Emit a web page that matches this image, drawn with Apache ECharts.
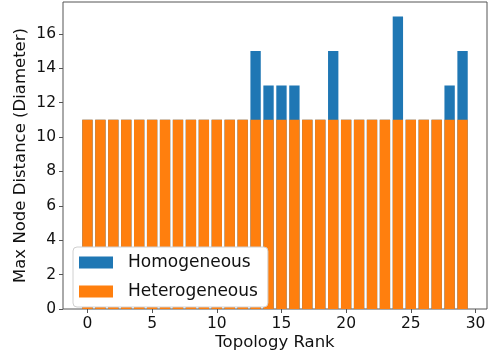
<!DOCTYPE html>
<html>
<head>
<meta charset="utf-8">
<script src="https://cdn.jsdelivr.net/npm/echarts@6/dist/echarts.min.js"></script>
<style>
  html, body { margin: 0; padding: 0; background: #fff; }
  #chart { width: 490px; height: 356px; }
</style>
</head>
<body>
<div id="chart"></div>
<script>
// Topology rank on the x axis, network diameter on the y axis
const ranks = [0, 1, 2, 3, 4, 5, 6, 7, 8, 9, 10, 11, 12, 13, 14, 15, 16, 17, 18, 19, 20, 21, 22, 23, 24, 25, 26, 27, 28, 29];
const homogeneous = [11, 11, 11, 11, 11, 11, 11, 11, 11, 11, 11, 11, 11, 15, 13, 13, 13, 11, 11, 15, 11, 11, 11, 11, 17, 11, 11, 11, 13, 15];
const heterogeneous = [11, 11, 11, 11, 11, 11, 11, 11, 11, 11, 11, 11, 11, 11, 11, 11, 11, 11, 11, 11, 11, 11, 11, 11, 11, 11, 11, 11, 11, 11];
const xTicks = [0, 5, 10, 15, 20, 25, 30];
const yTicks = [0, 2, 4, 6, 8, 10, 12, 14, 16];

const FONT = 'DejaVu Sans';
const BAR_WIDTH = 0.8;

function barRenderer(color) {
  return function (params, api) {
    const x = api.value(0);
    const y = api.value(1);
    const top = api.coord([x, y]);
    const base = api.coord([x, 0]);
    const w = api.size([BAR_WIDTH, 0])[0];
    return {
      type: 'rect',
      shape: { x: top[0] - w / 2, y: top[1], width: w, height: base[1] - top[1] },
      style: { fill: color }
    };
  };
}

const chart = echarts.init(document.getElementById('chart'), null, { renderer: 'canvas' });
chart.setOption({
  animation: false,
  backgroundColor: '#fff',
  textStyle: { fontFamily: FONT },
  grid: {
    left: 63, right: 3, top: 2, bottom: 47,
    outerBoundsMode: 'none',
    containLabel: false,
    show: true, borderColor: '#555', borderWidth: 1, backgroundColor: 'transparent'
  },
  legend: {
    left: 73, top: 247,
    orient: 'vertical',
    padding: [7, 10, 7, 6],
    itemWidth: 34, itemHeight: 12, itemGap: 12,
    backgroundColor: '#fff',
    borderColor: '#d0d0d0', borderWidth: 1, borderRadius: 4,
    textStyle: { fontFamily: FONT, fontSize: 17, color: '#111', padding: [0, 0, 0, 10] },
    data: [
      { name: 'Homogeneous', icon: 'rect', itemStyle: { color: '#1f77b4' } },
      { name: 'Heterogeneous', icon: 'rect', itemStyle: { color: '#ff7f0e' } }
    ]
  },
  xAxis: {
    type: 'value',
    min: -1.89, max: 30.89,
    name: 'Topology Rank',
    nameLocation: 'middle', nameGap: 25,
    nameMoveOverlap: false,
    nameTextStyle: { fontFamily: FONT, fontSize: 16.5, color: '#111' },
    axisLine: { show: false, onZero: false },
    axisTick: { show: true, length: 4, lineStyle: { color: '#555' }, customValues: xTicks },
    axisLabel: { fontFamily: FONT, fontSize: 15.5, color: '#111', margin: 7, customValues: xTicks },
    splitLine: { show: false }
  },
  yAxis: {
    type: 'value',
    min: 0, max: 17.85,
    name: 'Max Node Distance (Diameter)',
    nameLocation: 'middle', nameGap: 34,
    nameMoveOverlap: false,
    nameTextStyle: { fontFamily: FONT, fontSize: 16.5, color: '#111' },
    axisLine: { show: false, onZero: false },
    axisTick: { show: true, length: 4, lineStyle: { color: '#555' }, customValues: yTicks },
    axisLabel: { fontFamily: FONT, fontSize: 15.5, color: '#111', margin: 7, customValues: yTicks },
    splitLine: { show: false }
  },
  series: [
    {
      name: 'Homogeneous',
      type: 'custom',
      renderItem: barRenderer('#1f77b4'),
      encode: { x: 0, y: 1 },
      data: ranks.map((r, i) => [r, homogeneous[i]]),
      z: 1
    },
    {
      name: 'Heterogeneous',
      type: 'custom',
      renderItem: barRenderer('#ff7f0e'),
      encode: { x: 0, y: 1 },
      data: ranks.map((r, i) => [r, heterogeneous[i]]),
      z: 2
    }
  ]
});
</script>
</body>
</html>
